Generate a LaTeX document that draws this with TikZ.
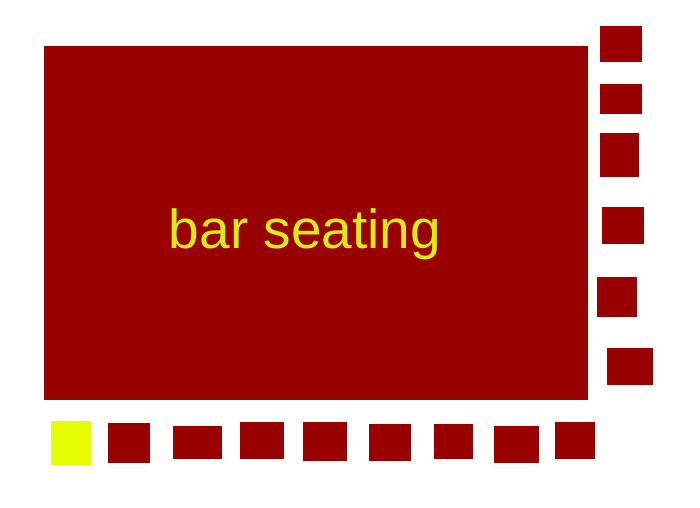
\documentclass[tikz,border=0pt]{standalone}
\usepackage{fontspec}
\setmainfont{Liberation Sans}
\definecolor{barred}{HTML}{990000}
\definecolor{seatyellow}{HTML}{E5FF00}
\definecolor{textyellow}{HTML}{DDEB12}
\begin{document}
\begin{tikzpicture}[x=1pt,y=-1pt,
  seat/.style={fill=barred,draw=none,inner sep=0pt,outer sep=0pt,anchor=center},
  chosen/.style={fill=seatyellow,draw=none,inner sep=0pt,outer sep=0pt,anchor=center},
  barbox/.style={fill=barred,draw=none,inner sep=0pt,outer sep=0pt,anchor=center,minimum width=544pt,minimum height=354pt},
  label/.style={text=textyellow,font=\fontsize{55}{60}\selectfont,inner sep=0pt,anchor=base}]
\useasboundingbox[fill=white] (0,0) rectangle (700,507);
\node[barbox] (bar) at (316,223) {};
\node[label] (lbl) at (305,248) {bar seating};
% right column
\node[seat,minimum width=42pt,minimum height=36pt] (r1) at (621,44) {};
\node[seat,minimum width=42pt,minimum height=30pt] (r2) at (621,99) {};
\node[seat,minimum width=39pt,minimum height=44pt] (r3) at (619.5,155) {};
\node[seat,minimum width=42pt,minimum height=37pt] (r4) at (623,225.5) {};
\node[seat,minimum width=40pt,minimum height=40pt] (r5) at (617,297) {};
\node[seat,minimum width=46pt,minimum height=37pt] (r6) at (630,366.5) {};
% bottom row
\node[chosen,minimum width=40pt,minimum height=44pt] (b1) at (71,443.3) {};
\node[seat,minimum width=42pt,minimum height=40pt] (b2) at (129,443) {};
\node[seat,minimum width=49pt,minimum height=33pt] (b3) at (197,442.5) {};
\node[seat,minimum width=44pt,minimum height=37pt] (b4) at (262,440.5) {};
\node[seat,minimum width=44pt,minimum height=39pt] (b5) at (325,441.5) {};
\node[seat,minimum width=42pt,minimum height=37pt] (b6) at (389.5,442.5) {};
\node[seat,minimum width=39pt,minimum height=35pt] (b7) at (453.5,441.5) {};
\node[seat,minimum width=45pt,minimum height=37pt] (b8) at (516.5,444.5) {};
\node[seat,minimum width=40pt,minimum height=37pt] (b9) at (575,440.5) {};
\end{tikzpicture}
\end{document}
